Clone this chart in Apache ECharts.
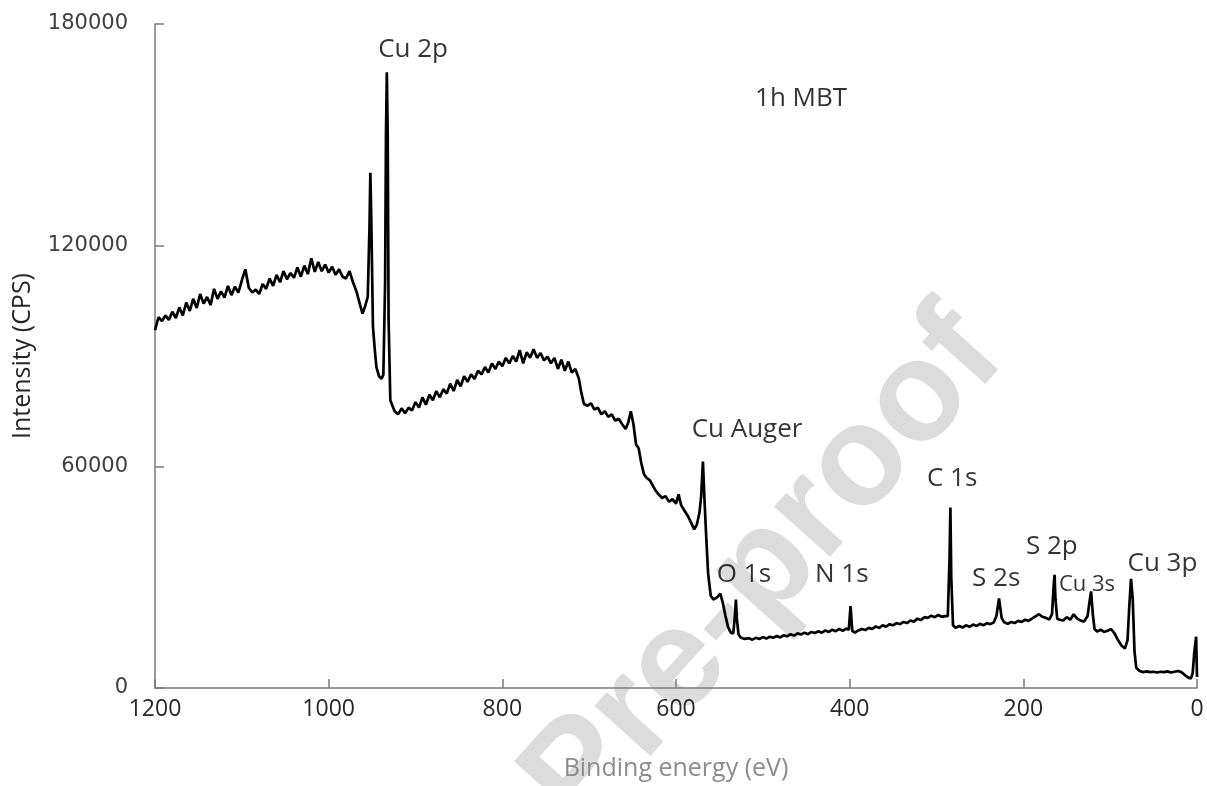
<!DOCTYPE html>
<html>
<head>
<meta charset="utf-8">
<script src="https://cdn.jsdelivr.net/npm/echarts@6/dist/echarts.min.js"></script>
<style>html,body{margin:0;padding:0;width:100%;height:100%;overflow:hidden;background:#fff;}#c{width:1207px;height:786px;overflow:hidden;}</style>
</head>
<body>
<div id="c"></div>
<script>
// Binding energy (eV) and intensity (CPS)
const energy = [
1200,1196,1192,1188,1184,1180,1176,1172,1168,1164,1160,1156,1152,1148,1144,1140,1136,1132,1128,1124,1120,1116,1112,1108,1104,1100,1096,1092,1088,1084,1080,1076,1072,1068,1064,1060,1056,1052,1048,1044,1040,1036,1032,1028,1024,1020,1016,1012,1008,1004,1000,996,992,988,984,980,976,972,968,964,961,958,955,953,952,951,949,947,945,942,939,937,935,934,933,932,931,929,926,
924,920,916,912,908,904,900,896,892,888,884,880,876,872,868,864,860,856,852,848,844,840,836,832,828,824,820,816,812,808,804,800,796,792,788,784,780,776,772,768,764,760,756,752,748,744,740,736,732,728,724,720,716,712,709,706,
702,698,694,690,686,682,678,674,670,666,662,658,655,652,649,646,643,640,637,634,630,627,624,620,616,612,608,604,600,597,594,590,586,582,579,576,573,571,569,567,565,563,560,557,553,549,546,543,540,537,534,532,531,530,528,525,
521,516,512,508,504,500,496,492,488,484,480,476,472,468,464,460,456,452,448,444,440,436,432,428,424,420,416,412,408,404,401,399,397,394,390,386,382,378,374,370,366,362,358,354,350,346,342,338,334,330,326,322,318,314,310,306,302,298,294,290,287,285,284,283,281,
278,274,270,266,262,258,254,250,246,242,238,234,231,228,225,222,218,214,210,206,202,198,194,190,186,182,178,174,170,167,165,164,163,161,158,154,150,146,142,138,134,130,126,124,122,120,118,115,111,107,103,99,95,91,87,83,80,78,76,74,72,70,66,62,58,54,50,46,42,38,34,30,26,22,18,14,10,7,5,3,1,0
];
const counts = [
97000,100500,99500,101000,99800,102000,100300,103200,101000,104500,102200,105500,103000,106800,104200,106000,103800,108200,105500,107500,105800,109000,106500,108800,107200,110500,113500,108500,107200,108000,106800,109500,108200,111000,109000,112000,110000,113000,110800,112500,111200,114000,111500,114500,112200,116500,112800,115500,113000,114800,112600,114200,112000,113500,111500,111000,113000,110000,107500,104000,101500,103500,106000,125000,139700,128000,98000,92000,87000,84500,83800,85000,110000,150000,166900,150000,100000,78000,76200,
75000,74200,75800,74500,76000,75200,77500,76000,78800,76800,79500,78000,80500,78800,81000,79800,82500,80500,83500,81800,84500,83000,85000,83800,86000,85000,87000,85500,88000,86500,88500,87200,89500,88000,90000,88500,91600,88000,91000,89500,91800,89500,90800,88800,89800,88000,89500,86500,89000,86000,88500,85500,86500,84000,80000,77000,
76500,77200,75500,76000,74200,75000,73500,74200,72500,73000,71500,70200,72000,75000,71500,66000,65000,61000,58000,57000,56300,55000,53700,52500,51500,52000,50500,51200,50000,52500,49500,48000,46500,44500,43000,44300,47500,52000,61400,50000,40000,31000,25000,24000,24500,25600,23000,19500,16500,15000,14800,20000,24000,19000,14500,13600,
13300,13500,13100,13600,13300,13800,13400,13900,13600,14100,13700,14300,14000,14600,14200,14800,14500,15000,14600,15200,14900,15400,15000,15600,15200,15800,15400,16000,15500,16100,15800,22200,15500,15000,15600,16000,15700,16300,16000,16700,16300,17000,16600,17300,17000,17600,17300,17900,17600,18300,18000,18800,18400,19200,19000,19600,19200,19800,19300,19500,19500,35000,48900,30000,17000,
16300,16800,16400,17000,16600,17200,16800,17400,17000,17600,17300,17800,19500,24300,19000,17800,17400,17900,17600,18200,17900,18500,18200,18800,19400,20000,19300,19000,18600,20000,28000,30700,24000,18800,18500,18300,19200,18500,20000,18800,18300,18000,19500,23000,26200,20000,16000,15300,15800,15200,15500,16000,14800,13000,11500,10700,13000,22000,29600,24000,10000,5500,4600,4300,4500,4300,4400,4200,4400,4300,4500,4200,4400,4600,4300,3500,2800,2600,4000,10000,13900,3000
];
// Peak annotations
const peakNames = ['Cu 2p','1h MBT','Cu Auger','O 1s','N 1s','C 1s','S 2s','S 2p','Cu 3s','Cu 3p'];
const peakLabelBE = [943,509,582,553,440,311,259,197,159,80];
const peakLabelI = [173000,159700,70000,30700,30700,56900,29600,38200,28000,33600];
const peakFontSize = [26,26,26,26,26,26,26,26,22,26];
// Axis ticks
const xTicks = [1200,1000,800,600,400,200,0];
const yTicks = [0,60000,120000,180000];

const chart = echarts.init(document.getElementById('c'), null, {renderer:'canvas', width:1207, height:786});
const lineData = energy.map((e,i)=>[e,counts[i]]);
const labelData = peakNames.map((n,i)=>({
  value:[peakLabelBE[i],peakLabelI[i]], name:n,
  label:{fontSize:peakFontSize[i]}
}));
chart.setOption({
  animation:false,
  backgroundColor:'#ffffff',
  grid:{left:155,right:10,top:24,bottom:88,containLabel:false},
  xAxis:{
    type:'value', inverse:true, min:xTicks[xTicks.length-1], max:xTicks[0], interval:200,
    name:'Binding energy (eV)', nameLocation:'middle', nameGap:68,
    nameTextStyle:{fontFamily:'Open Sans', fontSize:25, color:'#8c8c8c'},
    axisLine:{show:true,onZero:false,lineStyle:{color:'#7a7a7a',width:1.5}},
    axisTick:{show:true,inside:true,length:9,lineStyle:{color:'#7a7a7a',width:1.5}},
    axisLabel:{fontFamily:'Open Sans', fontSize:23, color:'#262626', margin:10,
      formatter:v=>String(v)},
    splitLine:{show:false}
  },
  yAxis:{
    type:'value', min:yTicks[0], max:yTicks[yTicks.length-1], interval:60000,
    name:'Intensity (CPS)', nameLocation:'middle', nameGap:120,
    nameTextStyle:{fontFamily:'Open Sans', fontSize:25, color:'#262626'},
    axisLine:{show:true,onZero:false,lineStyle:{color:'#7a7a7a',width:1.5}},
    axisTick:{show:true,inside:true,length:9,lineStyle:{color:'#7a7a7a',width:1.5}},
    axisLabel:{fontFamily:'DejaVu Sans', fontSize:21, color:'#404040', margin:27,
      formatter:v=>String(v)},
    splitLine:{show:false}
  },
  graphic:[{
    type:'text', z:-10,
    x:765, y:570, rotation:48*Math.PI/180, originX:0, originY:0,
    style:{text:'Pre-proof', font:'bold 142px "Liberation Sans"', fill:'#dcdcdc', align:'center', verticalAlign:'middle'}
  }],
  series:[{
    type:'line', data:lineData, showSymbol:false, symbol:'none',
    lineStyle:{color:'#000',width:2.7}, z:5
  },{
    type:'scatter', data:labelData, symbolSize:0, z:6,
    label:{show:true, position:'right', distance:0, formatter:p=>p.name,
      fontFamily:'Open Sans', color:'#000'}
  }]
});
</script>
</body>
</html>
